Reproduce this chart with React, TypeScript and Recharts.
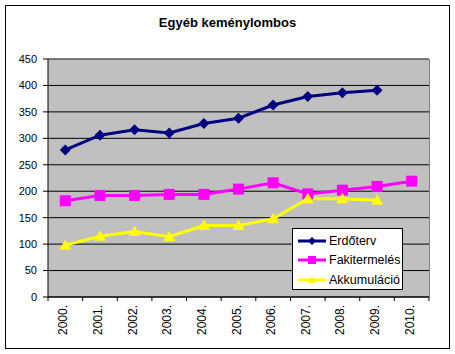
import { LineChart, Line, XAxis, YAxis, CartesianGrid, ReferenceLine } from 'recharts';

const years = ['2000.', '2001.', '2002.', '2003.', '2004.', '2005.', '2006.', '2007.', '2008.', '2009.', '2010.'];
const erdoterv = [278, 306, 316, 310, 328, 338, 363, 379, 386, 391, null];
const fakitermeles = [182, 192, 192, 194, 194, 204, 216, 195, 202, 209, 219];
const akkumulacio = [98, 115, 124, 114, 135, 135, 148, 186, 186, 183, null];
const yTicks = [0, 50, 100, 150, 200, 250, 300, 350, 400, 450];

const data = years.map((y, i) => ({
  year: y,
  erdoterv: erdoterv[i],
  fakitermeles: fakitermeles[i],
  akkumulacio: akkumulacio[i],
}));

const FONT = '"Liberation Sans", Arial, sans-serif';
const PLOT_W = 381;
const BAND = PLOT_W / years.length;

const Diamond = ({ cx, cy, color, r = 5.5 }: any) =>
  cx == null || cy == null ? null : (
    <polygon points={`${cx},${cy - r} ${cx + r},${cy} ${cx},${cy + r} ${cx - r},${cy}`} fill={color} />
  );
const Square = ({ cx, cy, color, r = 5.5 }: any) =>
  cx == null || cy == null ? null : <rect x={cx - r} y={cy - r} width={2 * r} height={2 * r} fill={color} />;
const Triangle = ({ cx, cy, color, r = 6 }: any) =>
  cx == null || cy == null ? null : (
    <polygon points={`${cx},${cy - r} ${cx + r},${cy + r * 0.75} ${cx - r},${cy + r * 0.75}`} fill={color} />
  );

const series = [
  { key: 'erdoterv', name: 'Erdőterv', color: '#000080', Marker: Diamond },
  { key: 'fakitermeles', name: 'Fakitermelés', color: '#FF00FF', Marker: Square },
  { key: 'akkumulacio', name: 'Akkumuláció', color: '#FFFF00', Marker: Triangle },
];

const XTick = ({ x, y, payload, index }: any) => (
  <g>
    <line x1={x - BAND / 2} x2={x - BAND / 2} y1={y - 8} y2={y - 4} stroke="#000" />
    {index === years.length - 1 && (
      <line x1={x + BAND / 2} x2={x + BAND / 2} y1={y - 8} y2={y - 4} stroke="#000" />
    )}
    <text
      x={x}
      y={y}
      transform={`rotate(-90 ${x} ${y})`}
      dx={0}
      dy={2}
      textAnchor="end"
      fontSize={12}
      fontFamily={FONT}
      fill="#000"
    >
      {payload.value}
    </text>
  </g>
);

const LegendBox = () => (
  <div
    style={{
      position: 'absolute',
      left: 292,
      top: 228,
      border: '1px solid #000',
      background: '#fff',
      width: 111,
      height: 62,
      boxSizing: 'border-box',
      padding: '2px 0 0 4px',
      fontFamily: FONT,
      fontSize: 12.5,
    }}
  >
    {series.map((s) => (
      <div key={s.key} style={{ display: 'flex', alignItems: 'center', height: 19.5 }}>
        <svg width={30} height={14}>
          <line x1={1} x2={29} y1={7} y2={7} stroke={s.color} strokeWidth={3} />
          <s.Marker cx={15} cy={7} color={s.color} r={4} />
        </svg>
        <span style={{ marginLeft: 2 }}>{s.name}</span>
      </div>
    ))}
  </div>
);

export default function App() {
  return (
    <div style={{ position: 'fixed', left: 0, top: 0, width: 455, height: 354, background: '#fff' }}>
      <div
        style={{
          position: 'absolute',
          left: 5,
          top: 5,
          width: 445,
          height: 344,
          border: '1px solid #000',
          boxSizing: 'border-box',
        }}
      />
      <div
        style={{
          position: 'absolute',
          left: 0,
          top: 15,
          width: 455,
          textAlign: 'center',
          fontFamily: FONT,
          fontWeight: 'bold',
          fontSize: 13,
        }}
      >
        Egyéb keménylombos
      </div>
      <div style={{ position: 'absolute', left: 0, top: 0 }}>
        <LineChart width={455} height={354} data={data} margin={{ top: 59, right: 26, bottom: 7, left: 8 }}>
          <CartesianGrid vertical={false} fill="#C0C0C0" stroke="#000" strokeOpacity={1} />
          <ReferenceLine y={450} stroke="#808080" />
          <XAxis
            dataKey="year"
            height={50}
            padding={{ left: BAND / 2, right: BAND / 2 }}
            tickLine={false}
            axisLine={{ stroke: '#000' }}
            interval={0}
            tick={<XTick />}
          />
          <YAxis
            width={40}
            domain={[0, 450]}
            ticks={yTicks}
            interval={0}
            tickSize={5}
            tickMargin={6}
            tickLine={{ stroke: '#000' }}
            axisLine={{ stroke: '#000' }}
            tick={{ fontSize: 11, fill: '#000', fontFamily: FONT }}
          />
          {series.map((s) => (
            <Line
              key={s.key}
              dataKey={s.key}
              name={s.name}
              type="linear"
              stroke={s.color}
              strokeWidth={3}
              dot={(p: any) => <s.Marker key={p.index} cx={p.cx} cy={p.cy} color={s.color} />}
              activeDot={false}
              isAnimationActive={false}
            />
          ))}
        </LineChart>
      </div>
      <div style={{ position: 'absolute', left: 48 + PLOT_W, top: 59, width: 1, height: 238, background: '#808080' }} />
      <LegendBox />
    </div>
  );
}
